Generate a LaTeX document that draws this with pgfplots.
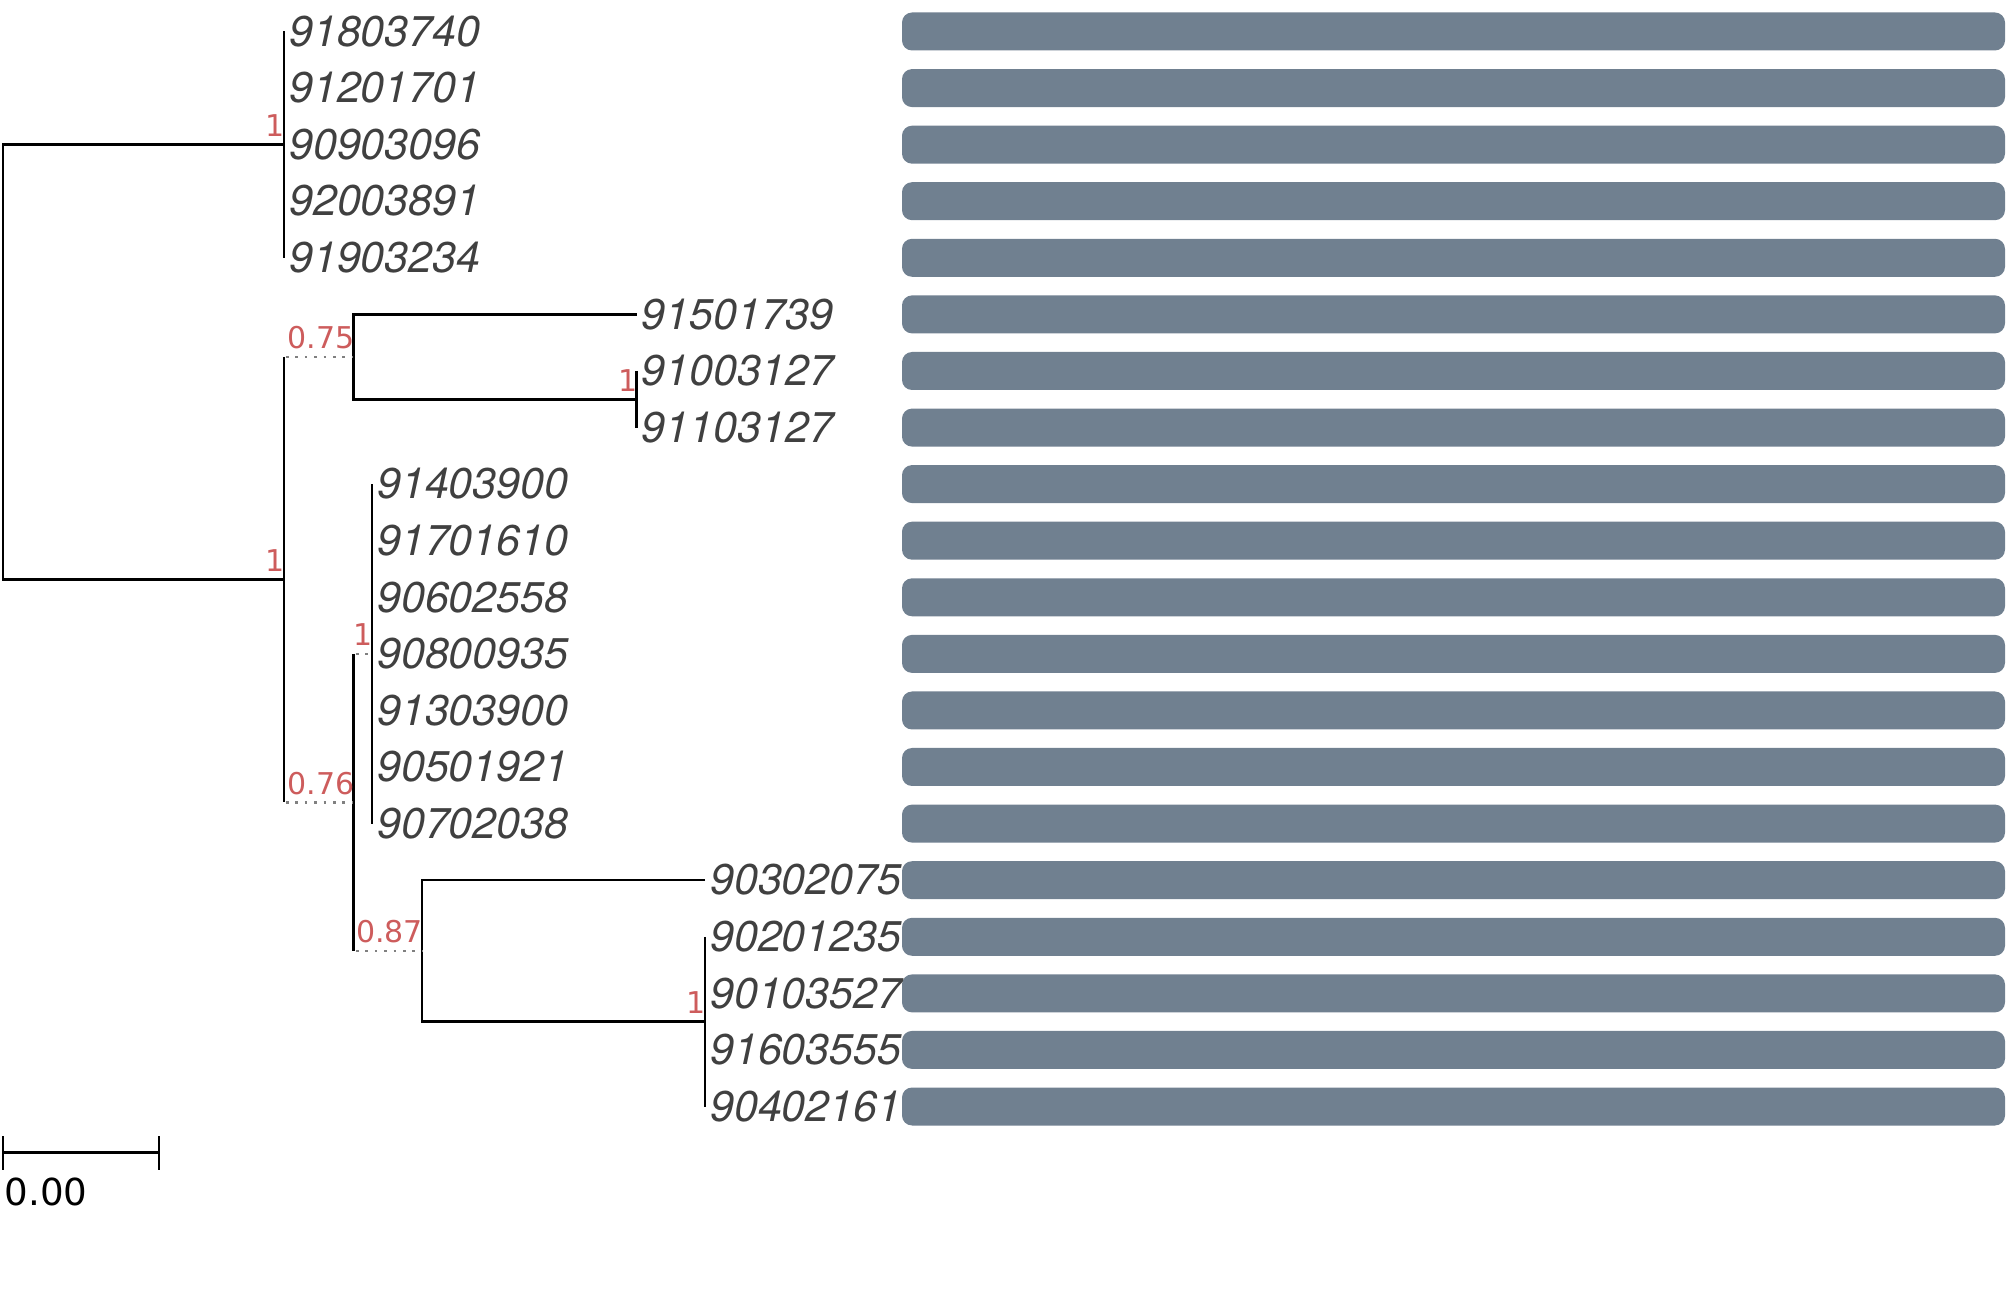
\documentclass[border=0pt]{standalone}
\usepackage{pgfplots}
\usepackage{pgfplotstable}
\usepackage{fontspec}
\pgfplotsset{compat=1.18}
\newfontfamily\tipfont{TeX Gyre Heros}
\newfontfamily\supfont{DejaVu Sans}
\definecolor{barcol}{HTML}{708090}
\definecolor{tipcol}{HTML}{404040}
\definecolor{supcol}{HTML}{CD5C5C}
\definecolor{dotcol}{HTML}{808080}

% rows: y positions (pixels, top = 0)
\pgfplotstableread{
y start len
31.5 902 1103
88.1 902 1103
144.7 902 1103
201.2 902 1103
257.8 902 1103
314.4 902 1103
371.0 902 1103
427.6 902 1103
484.1 902 1103
540.7 902 1103
597.3 902 1103
653.9 902 1103
710.5 902 1103
767.0 902 1103
823.6 902 1103
880.2 902 1103
936.8 902 1103
993.4 902 1103
1049.9 902 1103
1106.5 902 1103
}\bars

\pgfplotstableread{
x y label
284 31.5 91803740
284 88.1 91201701
284 144.7 90903096
284 201.2 92003891
284 257.8 91903234
636.5 314.4 91501739
636.5 371.0 91003127
636.5 427.6 91103127
372 484.1 91403900
372 540.7 91701610
372 597.3 90602558
372 653.9 90800935
372 710.5 91303900
372 767.0 90501921
372 823.6 90702038
705 880.2 90302075
705 936.8 90201235
705 993.4 90103527
705 1049.9 91603555
705 1106.5 90402161
}\tips

\pgfplotstableread{
x y label
284 144.7 1
353.5 356.9 0.75
636.5 399.3 1
284 579.6 1
372 653.9 1
353.5 802.4 0.76
422 950.9 0.87
705 1021.7 1
}\supports

\pgfplotsset{
  treeaxis/.style={
    x=0.25pt, y=0.25pt, y dir=reverse,
    xmin=0, xmax=2007, ymin=0, ymax=1294,
    hide axis, scale only axis, clip=false,
    enlargelimits=false,
    at={(0,0)}, anchor=south west,
  },
  br/.style={black, line width=0.62pt, mark=none},
  dt/.style={dotcol, line width=0.65pt, dash pattern=on 0.65pt off 1.7pt, mark=none},
}

\begin{document}
\begin{tikzpicture}
% bars
\begin{axis}[treeaxis, xbar stacked, bar width=38]
\addplot[draw=none, fill=none] table[x=start, y=y] {\bars};
\addplot[draw=none, fill=barcol, rounded corners=2.5pt] table[x=len, y=y] {\bars};
\end{axis}
% tree
\begin{axis}[treeaxis]
\addplot[draw=none, mark=none] coordinates {(0,0) (2007,1294)};
% solid branches
\addplot[br] coordinates {(284,144.7) (3,144.7) (3,579.6) (284,579.6)};
\addplot[br] coordinates {(284,31.5) (284,257.8)};
\addplot[br] coordinates {(284,356.9) (284,802.4)};
\addplot[br] coordinates {(636.5,314.4) (353.5,314.4) (353.5,399.3) (636.5,399.3)};
\addplot[br] coordinates {(636.5,371.0) (636.5,427.6)};
\addplot[br] coordinates {(353.5,653.9) (353.5,950.9)};
\addplot[br] coordinates {(372,484.1) (372,823.6)};
\addplot[br] coordinates {(705,880.2) (422,880.2) (422,1021.7) (705,1021.7)};
\addplot[br] coordinates {(705,936.8) (705,1106.5)};
% dotted connectors
\addplot[dt] coordinates {(286,356.9) (353,356.9)};
\addplot[dt] coordinates {(286,802.4) (353,802.4)};
\addplot[dt] coordinates {(356,653.9) (372,653.9)};
\addplot[dt] coordinates {(356,950.9) (422,950.9)};
% scale bar
\addplot[black, line width=0.65pt, mark=none] coordinates {(3,1152.7) (159,1152.7)};
\addplot[black, line width=0.65pt, mark=none] coordinates {(3,1136) (3,1170)};
\addplot[black, line width=0.65pt, mark=none] coordinates {(159,1136) (159,1170)};
\addplot[draw=none, mark=none, nodes near coords, point meta=explicit symbolic,
  every node near coord/.append style={anchor=base west, inner sep=0pt, text=black,
  font=\supfont\fontsize{9.3}{10}\selectfont}]
  coordinates {(4,1206) [0.00]};
% tip labels
\addplot[draw=none, mark=none, nodes near coords, point meta=explicit symbolic,
  every node near coord/.append style={anchor=base west, inner sep=0pt, text=tipcol,
  xshift=1.1pt, yshift=-3.7pt,
  font=\tipfont\itshape\fontsize{10.75}{12}\selectfont}]
  table[x=x, y=y, meta=label] {\tips};
% support values
\addplot[draw=none, mark=none, nodes near coords, point meta=explicit symbolic,
  every node near coord/.append style={anchor=base east, inner sep=0pt, text=supcol,
  xshift=0.4pt, yshift=2.0pt,
  font=\supfont\fontsize{7.5}{8}\selectfont}]
  table[x=x, y=y, meta=label] {\supports};
\end{axis}
\end{tikzpicture}
\end{document}
